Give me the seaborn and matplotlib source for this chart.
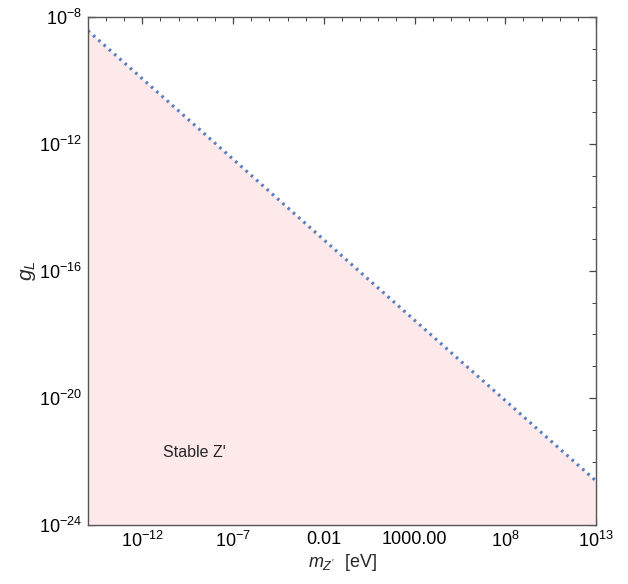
import seaborn as sns
import matplotlib
matplotlib.use("Agg")
import matplotlib.pyplot as plt
import matplotlib.ticker as mticker
import numpy as np

# curve (log-log straight line)
m_zp = [1e-15, 1e-10, 1e-5, 1.0, 1e5, 1e10, 1e13]
g_L = [3.7e-9, 1.1e-11, 3.2e-14, 9.3e-17, 2.75e-19, 8.1e-22, 2.45e-23]

x_ticks = [1e-12, 1e-7, 1e-2, 1e3, 1e8, 1e13]
x_ticklabels = [r'$10^{-12}$', r'$10^{-7}$', '0.01', '1000.00', r'$10^{8}$', r'$10^{13}$']
y_ticks = [1e-24, 1e-20, 1e-16, 1e-12, 1e-8]
y_ticklabels = [r'$10^{-24}$', r'$10^{-20}$', r'$10^{-16}$', r'$10^{-12}$', r'$10^{-8}$']

sns.set_style('ticks')
plt.rcParams['font.family'] = ['Liberation Sans', 'DejaVu Sans']
plt.rcParams['mathtext.fontset'] = 'custom'
plt.rcParams['mathtext.rm'] = 'Liberation Sans'
plt.rcParams['mathtext.it'] = 'Liberation Sans:italic'

fig = plt.figure(figsize=(6.28, 5.84), dpi=100)
ax = fig.add_axes([0.140, 0.101, 0.809, 0.870])

ax.set_xscale('log')
ax.set_yscale('log')
ax.fill_between(m_zp, 1e-24, g_L, color='#fde9e9', lw=0)
sns.lineplot(x=m_zp, y=g_L, ax=ax, color='#5a7fc0', lw=2.3,
             linestyle=(0, (0.8, 1.4)), dash_capstyle='butt')

ax.set_xlim(1e-15, 1e13)
ax.set_ylim(1e-24, 1e-8)

ax.set_xticks(x_ticks)
ax.set_xticklabels(x_ticklabels)
ax.set_yticks(y_ticks)
ax.set_yticklabels(y_ticklabels)
ax.xaxis.set_minor_locator(mticker.LogLocator(base=10, subs=(1.0,), numticks=60))
ax.yaxis.set_minor_locator(mticker.LogLocator(base=10, subs=(1.0,), numticks=60))
ax.xaxis.set_minor_formatter(mticker.NullFormatter())
ax.yaxis.set_minor_formatter(mticker.NullFormatter())

ax.tick_params(which='both', direction='in', top=True, right=True,
               colors='#444444', labelcolor='black', labelsize=13, pad=4)
ax.tick_params(which='major', length=5, width=0.9)
ax.tick_params(which='minor', length=3, width=0.7)
for s in ax.spines.values():
    s.set_color('#555555')
    s.set_linewidth(1.0)

ax.set_xlabel(r"$m_{Z'}$  [eV]", fontsize=13, labelpad=1)
ax.set_ylabel(r'$g_L$', fontsize=15, labelpad=1)
ax.text(0.148, 0.142, "Stable Z'", transform=ax.transAxes, fontsize=11.5,
        ha='left', va='center')

plt.savefig('out.png', dpi=100)
